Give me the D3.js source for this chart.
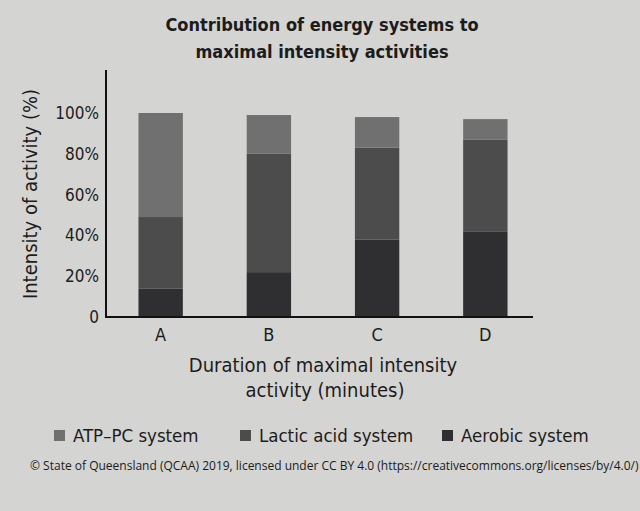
<!DOCTYPE html>
<html>
<head>
<meta charset="utf-8">
<script src="https://cdn.jsdelivr.net/npm/d3@7"></script>
<style>
  body { margin: 0; background: #d4d4d2; }
  svg { display: block; }
  text { font-family: "DejaVu Sans Condensed", "DejaVu Sans", sans-serif; fill: #1c1c1c; }
</style>
</head>
<body>
<script>
(function () {
  "use strict";
  var w = 640,
      h = 511;

  var categories = ["A", "B", "C", "D"];
  var seriesNames = ["Aerobic system", "Lactic acid system", "ATP\u2013PC system"];
  var aerobic = [14, 22, 38, 42];
  var lactic  = [35, 58, 45, 45];
  var atppc   = [51, 19, 15, 10];
  var yTicks  = [0, 20, 40, 60, 80, 100];
  var colors  = ["#2f2f31", "#4c4c4c", "#707070"];

  var rows = categories.map(function (c, i) {
    return { cat: c, "Aerobic system": aerobic[i], "Lactic acid system": lactic[i], "ATP\u2013PC system": atppc[i] };
  });
  var stacked = d3.stack().keys(seriesNames)(rows);

  var svg = d3.select("body")
              .append("svg")
              .attr("width", w)
              .attr("height", h);

  var x = d3.scaleBand()
            .domain(categories)
            .range([106, 540])
            .paddingInner(0.59)
            .paddingOuter(0.3);
  var y = d3.scaleLinear()
            .domain([0, 100])
            .range([317, 113]);

  // bars
  svg.append("g")
     .selectAll("g")
     .data(stacked)
     .enter()
     .append("g")
     .attr("fill", (d, i) => colors[i])
     .selectAll("rect")
     .data(d => d)
     .enter()
     .append("rect")
     .attr("x", d => x(d.data.cat))
     .attr("width", x.bandwidth())
     .attr("y", d => y(d[1]))
     .attr("height", d => y(d[0]) - y(d[1]));

  // axes
  var yAxis = svg.append("g")
     .attr("transform", "translate(106,0)")
     .call(d3.axisLeft(y).tickValues(yTicks).tickSize(0).tickPadding(7)
       .tickFormat(d => d === 0 ? "0" : d + "%"));
  yAxis.select(".domain").remove();
  yAxis.selectAll("text").style("font-size", "17px").attr("fill", "#1c1c1c");

  var xAxis = svg.append("g")
     .attr("transform", "translate(0,317)")
     .call(d3.axisBottom(x).tickSize(0).tickPadding(11));
  xAxis.select(".domain").remove();
  xAxis.selectAll("text").style("font-size", "18px").attr("fill", "#1c1c1c");

  svg.append("line")
     .attr("x1", 106).attr("x2", 106)
     .attr("y1", 70).attr("y2", y(0) + 1)
     .attr("stroke", "#111").attr("stroke-width", 2);
  svg.append("line")
     .attr("x1", 105).attr("x2", 533)
     .attr("y1", y(0)).attr("y2", y(0))
     .attr("stroke", "#111").attr("stroke-width", 2);

  // titles
  var title = svg.append("text")
     .attr("text-anchor", "middle")
     .style("font-size", "18px")
     .style("font-weight", "bold");
  title.append("tspan").attr("x", 322).attr("y", 31).text("Contribution of energy systems to");
  title.append("tspan").attr("x", 322).attr("y", 58).text("maximal intensity activities");

  var xt = svg.append("text")
     .attr("text-anchor", "middle")
     .style("font-size", "20px");
  xt.append("tspan").attr("x", 323).attr("y", 372).text("Duration of maximal intensity");
  xt.append("tspan").attr("x", 325).attr("y", 397).text("activity (minutes)");

  svg.append("text")
     .attr("text-anchor", "middle")
     .attr("transform", "translate(37,194) rotate(-90)")
     .style("font-size", "20px")
     .text("Intensity of activity (%)");

  // legend
  var legendItems = [
    { name: seriesNames[2], color: colors[2], x: 54 },
    { name: seriesNames[1], color: colors[1], x: 240 },
    { name: seriesNames[0], color: colors[0], x: 442 }
  ];
  var lg = svg.append("g")
     .selectAll("g")
     .data(legendItems)
     .enter()
     .append("g")
     .attr("transform", d => "translate(" + d.x + ",436)");
  lg.append("rect")
    .attr("x", 0).attr("y", -6)
    .attr("width", 11).attr("height", 11)
    .attr("fill", d => d.color);
  lg.append("text")
    .attr("x", 19).attr("y", 6)
    .style("font-size", "18.5px")
    .text(d => d.name);

  svg.append("text")
     .attr("x", 30).attr("y", 470)
     .style("font-family", "'Open Sans', sans-serif")
     .style("font-size", "12px")
     .text("\u00a9 State of Queensland (QCAA) 2019, licensed under CC BY 4.0 (https://creativecommons.org/licenses/by/4.0/)");
})();
</script>
</body>
</html>
